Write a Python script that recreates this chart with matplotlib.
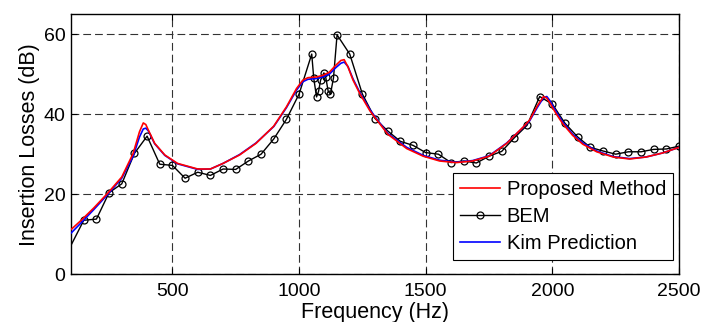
import matplotlib
matplotlib.use("Agg")
import matplotlib.pyplot as plt

plt.rcParams['font.family'] = ['Liberation Sans', 'DejaVu Sans']

# Model curves (Proposed Method / Kim Prediction)
freq_model = [100, 140, 190, 245, 300, 345, 370, 385, 395, 405, 430, 470, 520, 600, 650,
              700, 765, 830, 900, 950, 990, 1015, 1035, 1070, 1095, 1120, 1145, 1165,
              1178, 1193, 1213, 1240, 1280, 1310, 1350, 1425, 1490, 1555, 1620, 1685,
              1750, 1820, 1885, 1910, 1940, 1965, 1978, 1990, 2015, 2040, 2080, 2120,
              2175, 2240, 2305, 2370, 2435, 2500]
proposed = [11.2, 13.5, 16.6, 20.3, 24.3, 30.2, 35.6, 37.8, 37.4, 36.0, 32.7, 29.8, 27.7,
            26.3, 26.3, 27.7, 29.8, 32.7, 37.0, 41.8, 46.4, 48.5, 49.1, 49.3, 49.7, 50.5,
            52.2, 53.4, 53.6, 51.8, 48.5, 45.1, 40.8, 38.3, 35.0, 31.4, 29.5, 28.3, 27.9,
            28.3, 29.5, 32.7, 36.8, 38.5, 42.0, 44.4, 44.0, 42.8, 40.1, 37.7, 34.7, 32.5,
            30.6, 29.3, 28.8, 29.3, 30.3, 31.7]
kim = [10.3, 12.9, 16.2, 20.0, 24.0, 29.5, 34.3, 36.3, 36.5, 35.8, 32.6, 29.7, 27.6,
       26.2, 26.3, 27.7, 29.9, 32.8, 36.9, 41.6, 46.0, 48.1, 48.7, 48.9, 49.3, 50.0,
       51.6, 52.7, 53.0, 51.9, 48.8, 45.4, 41.1, 38.5, 35.2, 31.7, 29.7, 28.5, 28.0,
       28.4, 29.6, 32.8, 36.7, 38.3, 41.6, 44.1, 44.4, 43.4, 40.6, 38.1, 35.0, 32.8,
       30.8, 29.4, 28.9, 29.3, 30.3, 31.7]

# BEM samples
freq_bem = [50, 150, 200, 250, 300, 350, 400, 450, 500, 550, 600, 650, 700, 750, 800,
            850, 900, 950, 1000, 1050, 1058, 1069, 1077, 1085, 1098, 1105, 1115, 1124,
            1136, 1150, 1200, 1250, 1300, 1350, 1400, 1450, 1500, 1550, 1600, 1650,
            1700, 1750, 1800, 1850, 1900, 1950, 2000, 2050, 2100, 2150, 2200, 2250,
            2300, 2350, 2400, 2450, 2500]
bem = [1.1, 13.5, 13.8, 20.4, 22.6, 30.2, 34.5, 27.5, 27.2, 24.0, 25.5, 24.7, 26.3, 26.2,
       28.3, 30.0, 33.8, 38.7, 45.0, 55.0, 48.9, 44.3, 45.7, 48.5, 50.3, 49.3, 45.7, 45.0,
       49.1, 59.8, 55.0, 45.0, 38.9, 35.8, 33.2, 32.2, 30.4, 30.0, 27.9, 28.3, 27.8,
       29.5, 30.7, 34.1, 37.2, 44.4, 42.5, 37.7, 34.3, 31.7, 30.8, 30.0, 30.6, 30.6,
       31.2, 31.3, 32.0]

x_ticks = [500, 1000, 1500, 2000, 2500]
y_ticks = [0, 20, 40, 60]

fig = plt.figure(figsize=(7.04, 3.22), dpi=100)
ax = fig.add_axes([0.101, 0.148, 0.8635, 0.8085])

ax.plot(freq_model, proposed, color='red', lw=1.2, label='Proposed Method', zorder=4)
ax.plot(freq_bem, bem, color='black', lw=1.0, marker='o', markersize=5,
        markerfacecolor='none', markeredgewidth=0.9, label='BEM', zorder=3)
ax.plot(freq_model, kim, color='blue', lw=1.2, label='Kim Prediction', zorder=3.5)

ax.set_xlim(100, 2500)
ax.set_ylim(0, 65)
ax.set_xticks(x_ticks)
ax.set_yticks(y_ticks)
ax.tick_params(direction='in', top=True, right=True, labelsize=14, length=4)
ax.tick_params(axis='x', pad=6)
ax.tick_params(axis='y', pad=4)
ax.grid(True, color='#333333', linestyle=(0, (7, 3.6)), linewidth=0.8)
for s in ax.spines.values():
    s.set_linewidth(1.0)

ax.set_xlabel('Frequency (Hz)', fontsize=15.5, labelpad=2)
ax.set_ylabel('Insertion Losses (dB)', fontsize=15.5, labelpad=3)

leg = ax.legend(loc='lower right', bbox_to_anchor=(0.99, 0.055), borderaxespad=0,
                fontsize=14.5, fancybox=False, framealpha=1, edgecolor='black',
                handlelength=2.0, handletextpad=0.3, borderpad=0.35, labelspacing=0.4)
leg.get_frame().set_linewidth(0.8)

fig.savefig('out.png', dpi=100)
